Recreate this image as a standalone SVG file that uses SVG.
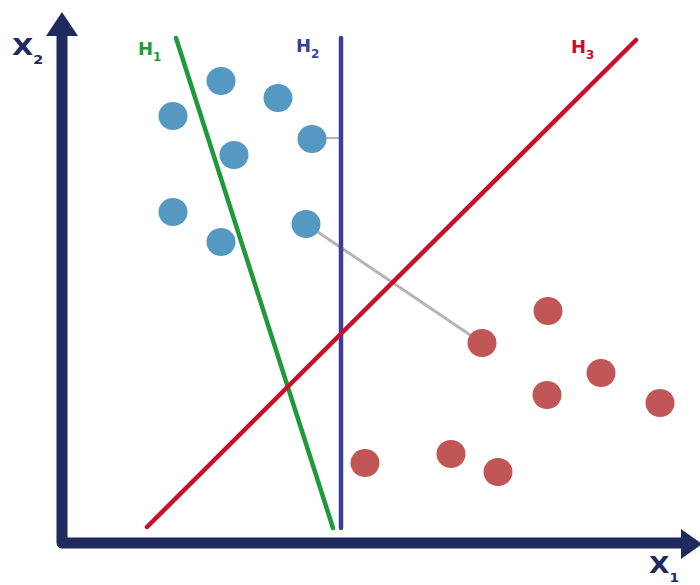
<svg xmlns="http://www.w3.org/2000/svg" width="700" height="585" viewBox="0 0 700 585">
<style>
.axis{stroke:#1f2a5e;stroke-width:11;fill:none}
.blue{fill:#5599c2}
.red{fill:#c05656}
.lbl{font-family:"DejaVu Sans","Liberation Sans",Arial,sans-serif;font-weight:bold}
.sub{font-size:12px}
</style>
<rect width="700" height="585" fill="#ffffff"/>
<g id="axes">
<path class="axis" d="M62,35 V543 H683" stroke-linejoin="round"/>
<polygon points="62,12 46,36 78,36" fill="#1f2a5e"/>
<polygon points="702,544 681,529 681,559" fill="#1f2a5e"/>
<text class="lbl" x="0" y="0" font-size="23" fill="#1f2a5e" transform="translate(12,55) scale(1.2,1)">X<tspan class="sub" dy="9">2</tspan></text>
<text class="lbl" x="0" y="0" font-size="23" fill="#1f2a5e" transform="translate(649,573) scale(1.15,1)">X<tspan class="sub" dy="9">1</tspan></text>
</g>
<g id="connectors">
<line x1="306" y1="224" x2="482" y2="343" stroke="#b5b5b5" stroke-width="3"/>
<line x1="312" y1="138" x2="341" y2="138" stroke="#b5b5b5" stroke-width="2"/>
</g>
<g id="H1">
<line x1="176" y1="38" x2="333" y2="528" stroke="#1e9a3a" stroke-width="4.5" stroke-linecap="round"/>
<text class="lbl" x="138" y="55" font-size="18" fill="#1e9a3a">H<tspan class="sub" dy="6">1</tspan></text>
</g>
<g id="H2">
<line x1="341" y1="38" x2="341" y2="528" stroke="#3a3f9e" stroke-width="4.5" stroke-linecap="round"/>
<text class="lbl" x="296" y="52" font-size="18" fill="#3a3f9e">H<tspan class="sub" dy="6">2</tspan></text>
</g>
<g id="H3">
<line x1="147" y1="527" x2="636" y2="40" stroke="#c8102e" stroke-width="4.5" stroke-linecap="round"/>
<text class="lbl" x="571" y="53" font-size="18" fill="#c8102e">H<tspan class="sub" dy="6">3</tspan></text>
</g>
<g id="blue-points">
<ellipse class="blue" cx="221" cy="81" rx="14.5" ry="14"/>
<ellipse class="blue" cx="173" cy="116" rx="14.5" ry="14"/>
<ellipse class="blue" cx="278" cy="98" rx="14.5" ry="14"/>
<ellipse class="blue" cx="234" cy="155" rx="14.5" ry="14"/>
<ellipse class="blue" cx="312" cy="139" rx="14.5" ry="14"/>
<ellipse class="blue" cx="173" cy="212" rx="14.5" ry="14"/>
<ellipse class="blue" cx="221" cy="242" rx="14.5" ry="14"/>
<ellipse class="blue" cx="306" cy="224" rx="14.5" ry="14"/>
</g>
<g id="red-points">
<ellipse class="red" cx="548" cy="311" rx="14.5" ry="14"/>
<ellipse class="red" cx="482" cy="343" rx="14.5" ry="14"/>
<ellipse class="red" cx="601" cy="373" rx="14.5" ry="14"/>
<ellipse class="red" cx="547" cy="395" rx="14.5" ry="14"/>
<ellipse class="red" cx="660" cy="403" rx="14.5" ry="14"/>
<ellipse class="red" cx="365" cy="463" rx="14.5" ry="14"/>
<ellipse class="red" cx="451" cy="454" rx="14.5" ry="14"/>
<ellipse class="red" cx="498" cy="472" rx="14.5" ry="14"/>
</g>
</svg>
